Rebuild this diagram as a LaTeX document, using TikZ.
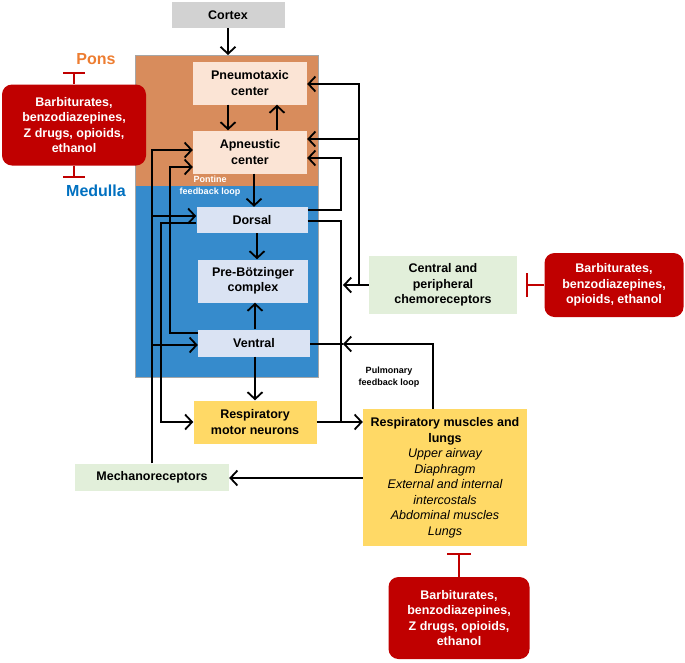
\documentclass[tikz,border=0pt]{standalone}
\usepackage{fontspec}
\setmainfont{Liberation Sans}
\usetikzlibrary{arrows.meta}
\definecolor{ponsfill}{RGB}{216,140,92}
\definecolor{medfill}{RGB}{54,139,204}
\definecolor{lightpink}{RGB}{251,228,213}
\definecolor{lightblue}{RGB}{218,227,243}
\definecolor{yellowbox}{RGB}{255,217,102}
\definecolor{greenbox}{RGB}{226,239,218}
\definecolor{drugred}{RGB}{192,0,0}
\definecolor{ponsorange}{RGB}{237,125,49}
\definecolor{medblue}{RGB}{0,112,192}
\newcommand{\itl}[1]{{\mdseries\itshape #1}}
\tikzset{
  box/.style={draw=none, align=center, inner sep=1pt, font=\fontsize{12.5}{15.5}\selectfont\bfseries},
  drug/.style={box, fill=drugred, text=white, rounded corners=10pt},
  flow/.style={line width=1.8pt, -{Straight Barb[length=7pt,width=15pt,line width=1.8pt]}},
  plain/.style={line width=1.8pt},
  inhib/.style={line width=1.4pt, drugred}
}
\begin{document}
\begin{tikzpicture}[x=1pt,y=-1pt]
\useasboundingbox (0,0) rectangle (685,662);

% brain stem
\fill[ponsfill] (135,55) rectangle (318,186);
\fill[medfill] (135,186) rectangle (318,377);
\draw[gray!70, line width=1pt] (135,55) rectangle (318,377);
\coordinate (braintop) at (228,55);

\node[box, fill=gray!35, minimum width=113pt, minimum height=26pt] (cortex) at (228,15) {Cortex};
\node[box, fill=lightpink, minimum width=114pt, minimum height=43pt] (pneu) at (250,83) {Pneumotaxic\\center};
\node[box, fill=lightpink, minimum width=114pt, minimum height=43pt] (apn) at (250,152) {Apneustic\\center};
\node[box, fill=lightblue, minimum width=111pt, minimum height=26pt] (dors) at (252,220) {Dorsal};
\node[box, fill=lightblue, minimum width=110pt, minimum height=43pt] (preb) at (253,281) {Pre-Bötzinger\\complex};
\node[box, fill=lightblue, minimum width=112pt, minimum height=27pt] (vent) at (254,343) {Ventral};
\node[box, fill=yellowbox, minimum width=123pt, minimum height=43pt] (motor) at (255,422) {Respiratory\\motor neurons};
\node[box, fill=yellowbox, minimum width=164pt, minimum height=137pt, anchor=north] (lungs) at (445,409) {Respiratory muscles and\\lungs\\
  \itl{Upper airway}\\ \itl{Diaphragm}\\ \itl{External and internal}\\ \itl{intercostals}\\ \itl{Abdominal muscles}\\ \itl{Lungs}};
\node[box, fill=greenbox, minimum width=154pt, minimum height=27pt] (mech) at (152,477) {Mechanoreceptors};
\node[box, fill=greenbox, minimum width=148pt, minimum height=58pt] (chemo) at (443,285) {Central and\\peripheral\\chemoreceptors};
\node[drug, minimum width=144pt, minimum height=81pt] (drugL) at (74,125) {Barbiturates,\\benzodiazepines,\\Z drugs, opioids,\\ethanol};
\node[drug, minimum width=139pt, minimum height=64pt] (drugR) at (614,285) {Barbiturates,\\benzodiazepines,\\opioids, ethanol};
\node[drug, minimum width=141pt, minimum height=82pt] (drugB) at (459,618) {Barbiturates,\\benzodiazepines,\\Z drugs, opioids,\\ethanol};

\node[font=\fontsize{16}{18}\selectfont\bfseries, text=ponsorange] (pons) at (96,59) {Pons};
\node[font=\fontsize{16}{18}\selectfont\bfseries, text=medblue] (medulla) at (96,191) {Medulla};
\node[font=\fontsize{9}{11.5}\selectfont\bfseries, text=white, align=center] (pontine) at (210,186) {Pontine\\feedback loop};
\node[font=\fontsize{9}{11.5}\selectfont\bfseries, align=center] (pulm) at (389,377) {Pulmonary\\feedback loop};

% inhibitions
\draw[inhib] (drugL.north) -- (drugL.north |- 0,73) coordinate (tL1);
\draw[inhib] ([xshift=-11pt]tL1) -- ([xshift=11pt]tL1);
\draw[inhib] (drugL.south) -- (drugL.south |- 0,177) coordinate (tL2);
\draw[inhib] ([xshift=-11pt]tL2) -- ([xshift=11pt]tL2);
\draw[inhib] (drugR.west) -- (527,285) coordinate (tR);
\draw[inhib] ([yshift=-12pt]tR) -- ([yshift=12pt]tR);
\draw[inhib] (drugB.north) -- (459,554) coordinate (tB);
\draw[inhib] ([xshift=-12pt]tB) -- ([xshift=12pt]tB);

% main flow
\draw[flow] (cortex.south -| braintop) -- (braintop);
\draw[flow] (pneu.south -| 228,0) -- (apn.north -| 228,0);
\draw[flow] (apn.north -| 277,0) -- (pneu.south -| 277,0);
\draw[flow] (apn.south -| 254,0) -- (dors.north -| 254,0);
\draw[flow] (dors.south -| 257,0) -- (preb.north -| 257,0);
\draw[flow] (vent.north -| 255,0) -- (preb.south -| 255,0);
\draw[flow] (vent.south -| 255,0) -- (motor.north -| 255,0);
\draw[flow] (motor.east) -- (lungs.west |- motor.east);
\draw[flow] (lungs.west |- 0,478) -- (mech.east |- 0,478);

% left loops
\draw[flow] (mech.north -| 152,0) -- (152,150) -- (apn.west |- 0,150);
\draw[flow] (152,216) -- (dors.west |- 0,216);
\draw[flow] (152,345) -- (vent.west |- 0,345);
\draw[flow] (dors.west |- 0,223) -- (161,223) -- (161,422) -- (motor.west);
\draw[flow] (vent.west |- 0,333) -- (170,333) -- (170,167) -- (apn.west |- 0,167);

% right loops
\draw[flow] (dors.east |- 0,210) -- (341,210) -- (341,158) -- (apn.east |- 0,158);
\draw[plain] (dors.east |- 0,221) -- (341,221) -- (341,422);
\draw[flow] (chemo.west) -- (343,285);
\draw[flow] (359,285) -- (359,84) -- (pneu.east |- 0,84);
\draw[flow] (359,139) -- (apn.east |- 0,139);
\draw[flow] (lungs.north -| 433,0) -- (433,344) -- (343,344);
\draw[plain] (343,344) -- (vent.east |- 0,344);
\end{tikzpicture}
\end{document}
